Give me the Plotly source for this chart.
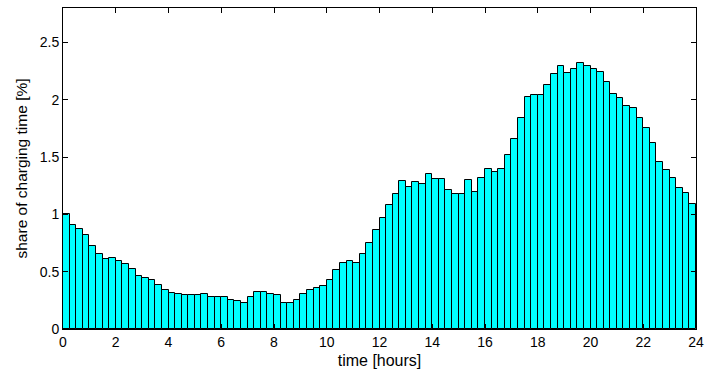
import plotly.graph_objects as go

# Share of charging time per 15-minute slot over one day
slot_hours = 0.25
share_pct = [
    1.00, 0.904, 0.872, 0.823, 0.728, 0.658, 0.609, 0.620,
    0.591, 0.568, 0.524, 0.466, 0.449, 0.429, 0.383, 0.336,
    0.313, 0.304, 0.293, 0.293, 0.293, 0.301, 0.275, 0.275,
    0.275, 0.255, 0.240, 0.229, 0.275, 0.322, 0.322, 0.304,
    0.293, 0.229, 0.229, 0.252, 0.301, 0.336, 0.354, 0.374,
    0.426, 0.519, 0.580, 0.597, 0.580, 0.658, 0.751, 0.861,
    0.971, 1.084, 1.177, 1.288, 1.238, 1.280, 1.267, 1.348,
    1.307, 1.307, 1.209, 1.177, 1.177, 1.300, 1.197, 1.320,
    1.397, 1.368, 1.397, 1.522, 1.655, 1.838, 2.020, 2.038,
    2.038, 2.130, 2.223, 2.293, 2.235, 2.264, 2.322, 2.290,
    2.264, 2.243, 2.154, 2.049, 2.011, 1.948, 1.930, 1.838,
    1.757, 1.623, 1.461, 1.389, 1.316, 1.229, 1.188, 1.093,
]
slot_centers = [(i + 0.5) * slot_hours for i in range(len(share_pct))]

x_ticks = list(range(0, 25, 2))
y_ticks = [0, 0.5, 1, 1.5, 2, 2.5]
y_tick_text = ["0", "0.5", "1", "1.5", "2", "2.5"]

font_family = "Liberation Sans, Arial, Helvetica, sans-serif"

fig = go.Figure(
    go.Bar(
        x=slot_centers,
        y=share_pct,
        width=slot_hours,
        marker=dict(color="#00FFFF", line=dict(color="black", width=1)),
        hoverinfo="x+y",
    )
)

axis_common = dict(
    showline=True,
    linecolor="black",
    linewidth=1,
    mirror="ticks",
    ticks="inside",
    ticklen=5,
    tickcolor="black",
    showgrid=False,
    zeroline=False,
    automargin=False,
    tickfont=dict(family=font_family, size=14, color="black"),
)

fig.update_layout(
    width=706,
    height=374,
    margin=dict(l=63, r=10, t=8, b=45),
    paper_bgcolor="white",
    plot_bgcolor="white",
    bargap=0,
    showlegend=False,
    font=dict(family=font_family, size=14, color="black"),
    xaxis=dict(
        range=[0, 24],
        tickvals=x_ticks,
        ticktext=[str(t) for t in x_ticks],
        title=dict(text="time [hours]", font=dict(family=font_family, size=16), standoff=6),
        **axis_common,
    ),
    yaxis=dict(
        range=[0, 2.8],
        tickvals=y_ticks,
        ticktext=y_tick_text,
        title=dict(text="share of charging time [%]", font=dict(family=font_family, size=15.5), standoff=8),
        **axis_common,
    ),
)

fig.write_html("out.html")
